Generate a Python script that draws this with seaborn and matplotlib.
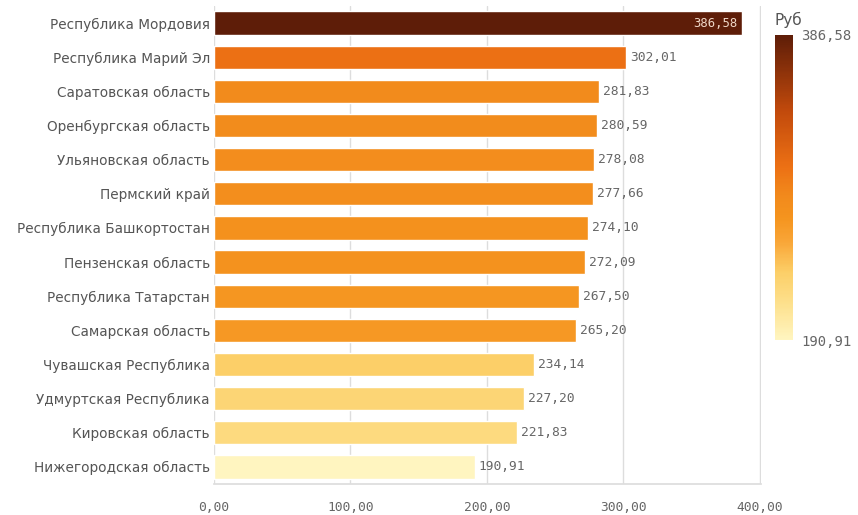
import matplotlib
matplotlib.use("Agg")
import matplotlib.pyplot as plt
import matplotlib as mpl
import seaborn as sns
import numpy as np
import pandas as pd

regions = ["Республика Мордовия", "Республика Марий Эл", "Саратовская область",
           "Оренбургская область", "Ульяновская область", "Пермский край",
           "Республика Башкортостан", "Пензенская область", "Республика Татарстан",
           "Самарская область", "Чувашская Республика", "Удмуртская Республика",
           "Кировская область", "Нижегородская область"]
values = [386.58, 302.01, 281.83, 280.59, 278.08, 277.66, 274.10, 272.09,
          267.50, 265.20, 234.14, 227.20, 221.83, 190.91]
xticks = [0, 100, 200, 300, 400]
unit = "Руб"

sns.set_theme(style="white")
plt.rcParams['font.family'] = ['DejaVu Sans']

cmap = mpl.colors.LinearSegmentedColormap.from_list(
    "c", [(0.0, "#fff5c0"), (0.12, "#fde08c"), (0.22, "#fccf68"), (0.32, "#f9a638"),
          (0.40, "#f5941e"), (0.47, "#f28a1c"), (0.57, "#ec7014"), (0.75, "#c24a0c"),
          (1.0, "#5e1d08")])
norm = mpl.colors.Normalize(vmin=min(values), vmax=max(values))
colors = [mpl.colors.to_hex(cmap(norm(v))) for v in values]

df = pd.DataFrame({"region": regions, "value": values})

fig = plt.figure(figsize=(8.58, 5.15), dpi=100)
ax = fig.add_axes([214/858, 31/515, 547/858, 478/515])
sns.barplot(data=df, x="value", y="region", hue="region", palette=colors,
            legend=False, width=0.68, ax=ax, saturation=1)

ax.set_xlim(0, 400.8)
ax.set_xticks(xticks)
ax.set_xticklabels([f"{t:.2f}".replace(".", ",") for t in xticks],
                   family="DejaVu Sans Mono", fontsize=9.3, color="#666666")
ax.set_xlabel("")
ax.set_ylabel("")
ax.tick_params(axis="y", labelsize=9.8, colors="#555555", length=0, pad=3)
ax.tick_params(axis="x", length=4, color="#dddddd", pad=8)
ax.xaxis.grid(True, color="#dddddd", linewidth=1)
ax.set_axisbelow(True)
for s in ["top", "right", "left"]:
    ax.spines[s].set_visible(False)
ax.spines["bottom"].set_color("#dddddd")

for i, v in enumerate(values):
    lab = f"{v:.2f}".replace(".", ",")
    if i == 0:
        ax.text(v - 3, i, lab, ha="right", va="center", fontsize=8.8,
                family="DejaVu Sans Mono", color="#f0d8c8")
    else:
        ax.text(v + 3, i, lab, ha="left", va="center", fontsize=9.3,
                family="DejaVu Sans Mono", color="#666666")

cax = fig.add_axes([775/858, 175/515, 18/858, 305/515])
cb = mpl.colorbar.ColorbarBase(cax, cmap=cmap, norm=norm, orientation="vertical")
cb.set_ticks([min(values), max(values)])
cb.set_ticklabels([f"{min(values):.2f}".replace(".", ","), f"{max(values):.2f}".replace(".", ",")])
cb.outline.set_visible(False)
cax.tick_params(length=0, labelsize=10, colors="#666666", pad=6)
for t in cax.get_yticklabels():
    t.set_family("DejaVu Sans Mono")
fig.text(775/858, 1 - 20/515, unit, fontsize=11, color="#555555", va="center", ha="left")

fig.savefig("out.png", dpi=100)
